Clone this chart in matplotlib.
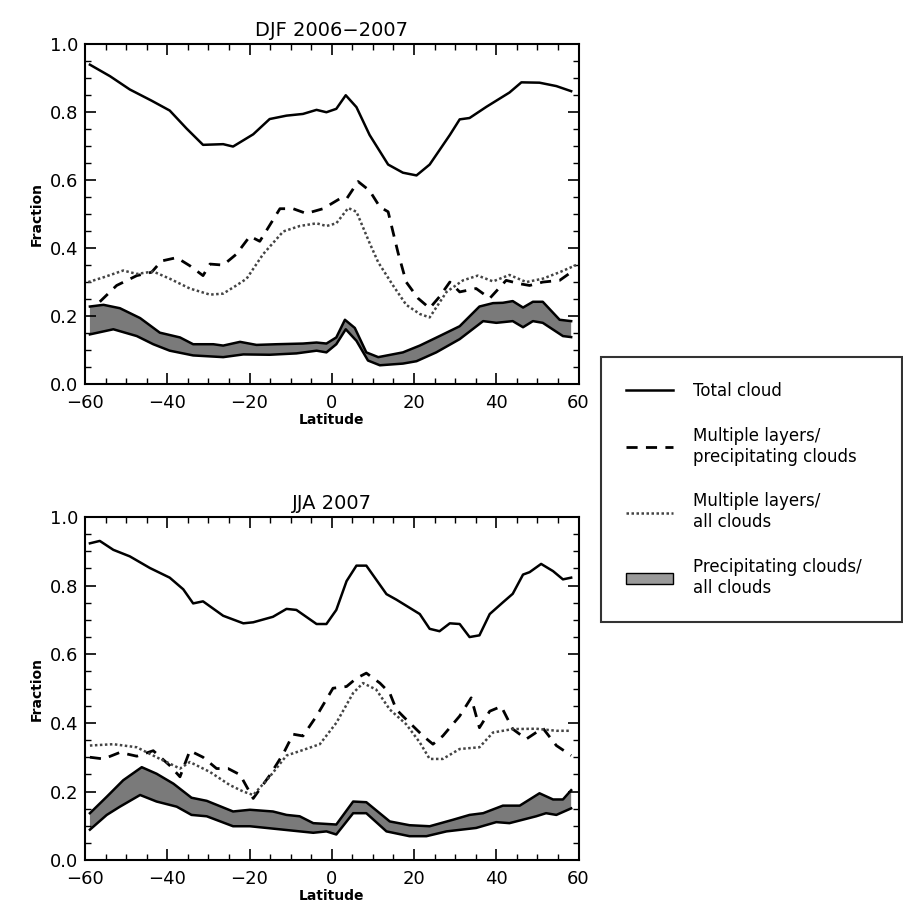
import matplotlib
matplotlib.use('Agg')
import numpy as np
import matplotlib.pyplot as plt
from matplotlib.lines import Line2D
from matplotlib.patches import Patch
from matplotlib.ticker import MultipleLocator

# ---- DJF 2006-2007 ----
djf_tot_lat = [-58.8, -53.9, -49.1, -43.8, -39.4, -35.3, -31.3, -26.4, -24.0, -19.1, -15.1, -11.0, -7.0, -3.7, -1.3, 1.1, 3.4, 6.0, 9.2, 13.7, 17.3, 20.6, 23.8, 28.7, 31.1, 33.5, 37.6, 43.2, 46.1, 50.5, 54.6, 58.2]
djf_tot = [0.94, 0.906, 0.867, 0.834, 0.805, 0.752, 0.704, 0.706, 0.699, 0.735, 0.78, 0.79, 0.795, 0.807, 0.80, 0.81, 0.85, 0.815, 0.733, 0.646, 0.622, 0.614, 0.646, 0.733, 0.779, 0.783, 0.816, 0.858, 0.888, 0.887, 0.877, 0.862]

djf_mlp_lat = [-56.4, -52.3, -47.4, -43.8, -41.4, -37.7, -34.5, -31.3, -29.6, -26.4, -23.2, -19.9, -17.5, -12.6, -9.4, -6.2, -2.1, 1.9, 3.6, 6.4, 9.2, 11.7, 13.7, 16.1, 18.1, 21.0, 23.8, 26.2, 28.7, 31.1, 35.1, 38.4, 42.4, 45.7, 48.1, 51.3, 55.4, 58.2]
djf_mlp = [0.242, 0.29, 0.319, 0.329, 0.362, 0.372, 0.348, 0.319, 0.353, 0.35, 0.382, 0.435, 0.42, 0.516, 0.516, 0.502, 0.516, 0.545, 0.545, 0.596, 0.569, 0.521, 0.507, 0.387, 0.30, 0.252, 0.223, 0.257, 0.30, 0.271, 0.281, 0.252, 0.305, 0.295, 0.29, 0.30, 0.305, 0.329]

djf_mla_lat = [-59.2, -55.5, -50.7, -47.4, -43.4, -39.4, -34.5, -29.6, -26.4, -23.2, -20.7, -16.7, -11.8, -7.8, -3.7, -1.3, 1.1, 4.0, 6.0, 9.2, 11.3, 14.9, 18.1, 21.4, 23.8, 27.9, 31.9, 35.5, 39.2, 43.2, 47.3, 51.3, 55.4, 59.4]
djf_mla = [0.30, 0.314, 0.334, 0.324, 0.331, 0.31, 0.281, 0.263, 0.266, 0.29, 0.31, 0.382, 0.449, 0.465, 0.473, 0.465, 0.473, 0.518, 0.507, 0.415, 0.358, 0.29, 0.233, 0.206, 0.196, 0.271, 0.305, 0.319, 0.302, 0.321, 0.30, 0.31, 0.329, 0.35]

djf_hi_lat = [-58.8, -55.5, -51.5, -46.6, -41.8, -36.9, -33.7, -28.8, -26.4, -22.3, -18.3, -13.4, -7.0, -3.7, -1.3, 1.1, 3.2, 5.6, 8.4, 11.3, 17.3, 21.4, 26.2, 31.1, 35.9, 39.2, 41.6, 44.0, 46.5, 48.9, 51.3, 55.4, 58.2]
djf_hi = [0.228, 0.233, 0.223, 0.194, 0.151, 0.137, 0.117, 0.117, 0.113, 0.124, 0.115, 0.117, 0.119, 0.122, 0.119, 0.137, 0.189, 0.165, 0.093, 0.079, 0.093, 0.113, 0.141, 0.17, 0.228, 0.238, 0.239, 0.244, 0.225, 0.242, 0.242, 0.189, 0.185]
djf_lo_lat = [-58.8, -53.1, -47.4, -43.4, -39.4, -33.7, -26.4, -21.5, -15.1, -8.6, -3.7, -1.3, 1.1, 3.4, 6.0, 8.8, 11.7, 17.3, 20.6, 25.4, 31.1, 36.8, 40.0, 44.0, 46.5, 48.9, 51.3, 56.2, 58.2]
djf_lo = [0.146, 0.161, 0.141, 0.117, 0.098, 0.084, 0.079, 0.087, 0.086, 0.09, 0.098, 0.093, 0.117, 0.161, 0.127, 0.069, 0.055, 0.06, 0.067, 0.093, 0.132, 0.185, 0.18, 0.185, 0.167, 0.185, 0.18, 0.141, 0.138]

# ---- JJA 2007 ----
jja_tot_lat = [-58.8, -56.4, -53.1, -49.1, -44.2, -39.4, -36.1, -33.7, -31.3, -26.4, -21.5, -19.1, -14.3, -11.0, -8.6, -3.7, -1.3, 1.1, 3.6, 6.0, 8.4, 13.3, 15.7, 21.4, 23.8, 26.2, 28.7, 31.1, 33.5, 35.9, 38.4, 41.6, 44.0, 46.5, 48.1, 50.9, 53.8, 56.2, 58.2]
jja_tot = [0.923, 0.93, 0.904, 0.885, 0.851, 0.823, 0.789, 0.748, 0.754, 0.712, 0.69, 0.693, 0.709, 0.732, 0.729, 0.688, 0.688, 0.729, 0.813, 0.858, 0.858, 0.775, 0.759, 0.717, 0.674, 0.667, 0.69, 0.688, 0.65, 0.655, 0.717, 0.751, 0.776, 0.832, 0.839, 0.863, 0.842, 0.818, 0.823]

jja_mlp_lat = [-58.8, -55.5, -51.5, -47.4, -43.4, -39.4, -36.9, -34.5, -31.3, -28.0, -25.2, -22.3, -19.1, -15.1, -11.8, -9.4, -7.0, -3.7, 0.3, 3.6, 6.0, 8.4, 11.7, 14.1, 15.7, 18.1, 22.2, 24.6, 27.0, 31.1, 33.9, 35.9, 38.4, 41.2, 44.0, 47.3, 51.3, 54.6, 58.2]
jja_mlp = [0.30, 0.295, 0.314, 0.303, 0.319, 0.276, 0.243, 0.319, 0.30, 0.267, 0.267, 0.249, 0.18, 0.247, 0.31, 0.367, 0.362, 0.42, 0.501, 0.506, 0.53, 0.545, 0.516, 0.487, 0.439, 0.41, 0.362, 0.338, 0.362, 0.42, 0.473, 0.386, 0.434, 0.448, 0.382, 0.353, 0.385, 0.334, 0.305]

jja_mla_lat = [-58.8, -53.1, -47.4, -42.6, -36.9, -34.5, -29.6, -24.8, -21.5, -19.1, -15.1, -11.0, -7.0, -2.9, 1.1, 5.2, 7.6, 10.8, 14.1, 18.1, 21.4, 23.8, 27.0, 31.1, 35.9, 39.2, 44.0, 49.7, 54.6, 58.2]
jja_mla = [0.334, 0.338, 0.329, 0.30, 0.267, 0.286, 0.257, 0.219, 0.20, 0.19, 0.243, 0.305, 0.321, 0.338, 0.40, 0.487, 0.516, 0.497, 0.439, 0.396, 0.343, 0.295, 0.295, 0.324, 0.329, 0.372, 0.382, 0.383, 0.377, 0.377]

jja_hi_lat = [-58.8, -54.7, -50.7, -46.2, -42.6, -38.5, -34.1, -30.4, -24.0, -19.9, -14.3, -11.0, -7.8, -4.5, 1.1, 5.2, 8.4, 14.1, 18.9, 23.8, 29.5, 33.5, 36.8, 41.6, 45.7, 50.5, 53.8, 56.2, 58.2]
jja_hi = [0.137, 0.185, 0.233, 0.271, 0.252, 0.223, 0.182, 0.173, 0.142, 0.147, 0.142, 0.132, 0.128, 0.108, 0.104, 0.171, 0.169, 0.113, 0.102, 0.099, 0.118, 0.132, 0.137, 0.159, 0.159, 0.195, 0.177, 0.177, 0.204]
jja_lo_lat = [-58.8, -54.7, -51.5, -46.6, -42.6, -37.7, -34.1, -30.4, -24.0, -19.9, -11.8, -4.5, -1.3, 1.1, 5.2, 8.4, 13.3, 18.9, 23.0, 27.9, 35.1, 40.0, 43.2, 49.7, 52.1, 54.6, 58.2]
jja_lo = [0.089, 0.132, 0.156, 0.19, 0.171, 0.156, 0.132, 0.128, 0.099, 0.099, 0.089, 0.08, 0.084, 0.075, 0.137, 0.137, 0.084, 0.07, 0.07, 0.084, 0.094, 0.111, 0.108, 0.128, 0.137, 0.132, 0.151]

fig = plt.figure(figsize=(9.04, 9.23), dpi=100)
ax1 = fig.add_axes([0.094, 0.584, 0.546, 0.368])
ax2 = fig.add_axes([0.094, 0.068, 0.546, 0.372])


def draw_panel(ax, title, tl, t, pl, p, al, a, hl, h, ll, l):
    bx = np.r_[hl, ll[::-1]]
    by = np.r_[h, l[::-1]]
    ax.fill(bx, by, facecolor='#7a7a7a', edgecolor='none')
    ax.plot(hl, h, color='black', lw=1.8)
    ax.plot(ll, l, color='black', lw=1.8)
    ax.plot(tl, t, color='black', lw=1.8)
    ax.plot(pl, p, color='black', lw=2.0, ls=(0, (4, 3)))
    ax.plot(al, a, color='#444444', lw=1.8, ls=(0, (1, 1)))
    ax.set_xlim(-60, 60)
    ax.set_ylim(0, 1)
    ax.set_xticks([-60, -40, -20, 0, 20, 40, 60])
    ax.set_xticklabels(['\u221260', '\u221240', '\u221220', '0', '20', '40', '60'])
    ax.xaxis.set_minor_locator(MultipleLocator(5))
    ax.yaxis.set_major_locator(MultipleLocator(0.2))
    ax.yaxis.set_minor_locator(MultipleLocator(0.05))
    ax.yaxis.set_major_formatter(matplotlib.ticker.FormatStrFormatter('%.1f'))
    ax.tick_params(which='both', direction='in', top=True, right=True, labelsize=13)
    ax.tick_params(which='major', length=8, width=1.2)
    ax.tick_params(which='minor', length=4, width=1)
    ax.tick_params(axis='x', pad=7)
    ax.tick_params(axis='y', pad=5)
    for s in ax.spines.values():
        s.set_linewidth(1.5)
    ax.set_title(title, fontsize=14)
    ax.set_xlabel('Latitude', fontsize=10, fontweight='bold', labelpad=1)
    ax.set_ylabel('Fraction', fontsize=10, fontweight='bold')


draw_panel(ax1, 'DJF 2006\u22122007', djf_tot_lat, djf_tot, djf_mlp_lat, djf_mlp,
           djf_mla_lat, djf_mla, djf_hi_lat, djf_hi, djf_lo_lat, djf_lo)
draw_panel(ax2, 'JJA 2007', jja_tot_lat, jja_tot, jja_mlp_lat, jja_mlp,
           jja_mla_lat, jja_mla, jja_hi_lat, jja_hi, jja_lo_lat, jja_lo)

handles = [
    Line2D([], [], color='black', lw=1.8),
    Line2D([], [], color='black', lw=2.0, ls=(0, (4, 3))),
    Line2D([], [], color='#444444', lw=1.8, ls=(0, (1, 1))),
    Patch(facecolor='#9a9a9a', edgecolor='black', lw=1),
]
labels = ['Total cloud', 'Multiple layers/\nprecipitating clouds',
          'Multiple layers/\nall clouds', 'Precipitating clouds/\nall clouds']
leg = fig.legend(handles, labels, loc='upper left', bbox_to_anchor=(0.665, 0.326, 0.333, 0.287),
                 mode='expand', fontsize=12, frameon=True, fancybox=False, edgecolor='black',
                 handlelength=2.8, labelspacing=1.6, borderpad=1.5, handletextpad=1.2,
                 borderaxespad=0)
leg.get_frame().set_linewidth(1.5)

plt.savefig('out.png')
